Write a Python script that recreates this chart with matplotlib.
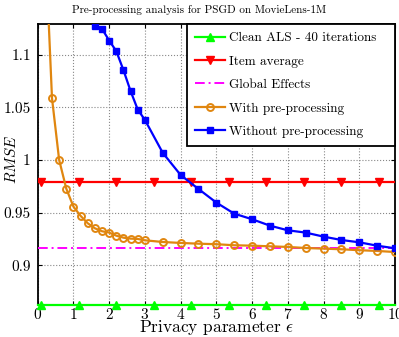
import matplotlib
matplotlib.use("Agg")
import matplotlib.pyplot as plt

plt.rcParams['font.family'] = 'serif'
plt.rcParams['font.serif'] = ['cmr10']
plt.rcParams['mathtext.fontset'] = 'cm'
plt.rcParams['axes.formatter.use_mathtext'] = True

# Data
title = "Pre-processing analysis for PSGD on MovieLens-1M"
labels = ["Clean ALS - 40 iterations", "Item average", "Global Effects",
          "With pre-processing", "Without pre-processing"]

const_x = [0, 0.1, 1.15, 2.2, 3.25, 4.3, 5.35, 6.4, 7.45, 8.5, 9.55, 10]
clean_als = [0.862] * len(const_x)
item_avg = [0.979] * len(const_x)
global_x = [0, 10]
global_eff = [0.916, 0.916]

with_x = [0.2, 0.4, 0.6, 0.8, 1.0, 1.2, 1.4, 1.6, 1.8, 2.0, 2.2, 2.4, 2.6, 2.8, 3.0,
          3.5, 4.0, 4.5, 5.0, 5.5, 6.0, 6.5, 7.0, 7.5, 8.0, 8.5, 9.0, 9.5, 10.0]
with_pre = [1.215, 1.0586, 1.0, 0.9727, 0.9557, 0.9469, 0.9399, 0.9351, 0.9323, 0.931,
            0.9281, 0.9262, 0.9253, 0.925, 0.9237, 0.9221, 0.9212, 0.9205, 0.920,
            0.919, 0.9186, 0.918, 0.9174, 0.9164, 0.9158, 0.9152, 0.9143, 0.9136, 0.9126]

without_x = [1.6, 1.8, 2.0, 2.2, 2.4, 2.6, 2.8, 3.0, 3.5, 4.0, 4.5, 5.0, 5.5, 6.0,
             6.5, 7.0, 7.5, 8.0, 8.5, 9.0, 9.5, 10.0]
without_pre = [1.1273, 1.1244, 1.1133, 1.1032, 1.0852, 1.0653, 1.0478, 1.038, 1.0067,
               0.9857, 0.9724, 0.9595, 0.949, 0.9437, 0.9376, 0.9332, 0.931, 0.9272,
               0.924, 0.9218, 0.9186, 0.9161]

xticks = list(range(0, 11))
yticks = [0.9, 0.95, 1.0, 1.05, 1.1]
ytick_labels = ["0.9", "0.95", "1", "1.05", "1.1"]

fig = plt.figure(figsize=(3.99, 3.37), dpi=100)
ax = fig.add_axes([0.0945, 0.094, 0.8955, 0.8348])

ax.plot(const_x, clean_als, color='#00ff00', lw=1.6, marker='^', ms=6,
        markevery=slice(1, -1), label=labels[0], zorder=5, clip_on=False)
ax.plot(const_x, item_avg, color='#ff0000', lw=1.6, marker='v', ms=6,
        markevery=slice(1, -1), label=labels[1], zorder=5)
ax.plot(global_x, global_eff, color='#ff00ff', lw=1.4, ls=(0, (5, 2, 1, 2)),
        label=labels[2], zorder=4)
ax.plot(with_x, with_pre, color='#e0860f', lw=1.6, marker='o', ms=5, mfc='none',
        mew=1.4, label=labels[3], zorder=6)
ax.plot(without_x, without_pre, color='#0000ff', lw=1.6, marker='s', ms=5,
        label=labels[4], zorder=7)

ax.set_xlim(0, 10)
ax.set_ylim(0.862, 1.129)
ax.set_xticks(xticks)
ax.set_yticks(yticks)
ax.set_yticklabels(ytick_labels)
ax.tick_params(direction='in', top=True, right=True, length=3, labelsize=11)
ax.tick_params(axis='x', pad=1.5)
ax.tick_params(axis='y', pad=5)
ax.grid(True, ls=':', color='#888888', lw=0.8)
for s in ax.spines.values():
    s.set_linewidth(1.3)

fig.suptitle(title, fontsize=8, x=0.5, y=0.985, va='top')
ax.set_xlabel(r"Privacy parameter $\epsilon$", fontsize=12.5, labelpad=-3)
ax.set_ylabel(r"$RMSE$", fontsize=11, va='center')
ax.yaxis.set_label_coords(-0.073, 0.518)

leg = ax.legend(loc='upper right', bbox_to_anchor=(0.417, 0.5, 0.583, 0.5),
                mode='expand', borderaxespad=0, fancybox=False, framealpha=1,
                edgecolor='black', fontsize=9.5, handlelength=2.3, labelspacing=0.85,
                borderpad=0.6, handletextpad=0.3)
leg.get_frame().set_linewidth(1.3)
leg.set_zorder(10)

fig.savefig("out.png", dpi=100)
